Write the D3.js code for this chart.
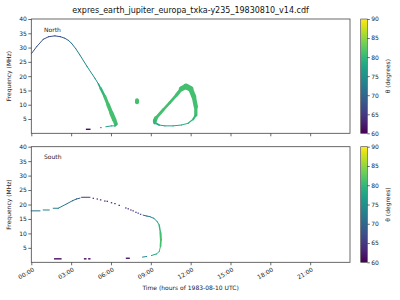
<!DOCTYPE html>
<html>
<head>
<meta charset="utf-8">
<script src="https://cdn.jsdelivr.net/npm/d3@7"></script>
<style>
  body { margin: 0; background: #fff; }
  svg { font-family: "DejaVu Sans", sans-serif; }
</style>
</head>
<body>
<div id="chart"></div>
<script>
// data: [hour, MHz, theta (deg), band (MHz)]
const title = "expres_earth_jupiter_europa_txka-y235_19830810_v14.cdf";
const hourTicks = [0, 3, 6, 9, 12, 15, 18, 21];
const freqTicks = [5, 10, 15, 20, 25, 30, 35, 40];
const thetaTicks = [60, 65, 70, 75, 80, 85, 90];

const northArc = [
  [0.03, 28.0, 68, 0], [0.4, 30.3, 68, 0], [0.9, 32.9, 67, 0], [1.3, 33.8, 67, 0],
  [1.78, 34.1, 67, 0], [2.2, 33.8, 68, 0], [2.53, 33.25, 69, 0], [2.8, 32.5, 71, 0],
  [3.03, 31.5, 72, 0], [3.35, 29.6, 73, 0], [3.66, 27.4, 74, 0], [4.21, 23.3, 75, 0],
  [4.79, 19.25, 76, 0], [5.05, 17.3, 78, 0.3], [5.22, 15.75, 80, 0.8], [5.54, 12.8, 81, 1.0],
  [5.79, 9.9, 81, 1.2], [6.04, 7.0, 81, 1.4], [6.25, 4.7, 81, 1.6], [6.37, 3.3, 80, 1.2],
  [6.3, 2.6, 79, 0], [6.05, 2.6, 77, 0], [5.62, 2.3, 76, 0]
];
const northRing = [
  [9.3, 4.4, 81, 1.6], [9.38, 5.25, 81, 1.2], [9.93, 8.2, 81, 0.9], [10.43, 10.7, 81, 0.9],
  [10.94, 13.4, 81, 1.0], [11.31, 15.6, 81, 1.4], [11.64, 16.4, 81, 2.2], [11.99, 15.6, 81, 1.8],
  [12.24, 12.8, 81, 1.6], [12.39, 9.3, 81, 1.4], [12.39, 6.4, 80, 0.9], [12.19, 4.9, 80, 0.6],
  [11.81, 3.5, 79, 0.3], [11.31, 2.9, 78, 0], [10.68, 2.6, 77, 0], [10.06, 2.6, 77, 0],
  [9.63, 2.9, 78, 0.3], [9.3, 3.7, 80, 0.8], [9.3, 4.4, 81, 1.6]
];
const northBlob = [[7.96, 10.9, 81, 1.4], [7.96, 11.6, 81, 1.4]];
const northDots = [[5.24, 2.0, 75]];
const northDashes = [[4.11, 4.46, 1.4, 61]];

const southLines = [
  [[0, 17.8, 71, 0], [0.65, 17.8, 71, 0]],
  [[0.9, 18.1, 73, 0], [1.35, 18.1, 73, 0]],
  [[1.66, 18.7, 73, 0], [2.03, 18.7, 73, 0], [2.28, 19.3, 73, 0], [2.7, 20.3, 72, 0],
   [3.1, 21.3, 70, 0], [3.4, 21.9, 69, 0], [3.66, 22.2, 68, 0]],
  [[3.79, 22.5, 65, 0], [4.41, 22.5, 65, 0]],
  [[8.43, 16.3, 70, 0], [8.7, 16.0, 72, 0], [8.93, 15.8, 74, 0], [9.23, 15.2, 76, 0],
   [9.48, 14.1, 78, 0], [9.63, 12.9, 80, 0.3], [9.73, 10.1, 81, 0.7], [9.76, 7.8, 81, 0.7],
   [9.73, 5.5, 81, 0.5], [9.63, 3.7, 80, 0], [9.43, 2.9, 78, 0], [9.05, 2.35, 76, 0]],
  [[8.68, 2.0, 74, 0], [8.38, 1.8, 72, 0]]
];
const southDots = [
  [4.67, 22.15, 63], [4.97, 21.9, 63], [5.22, 21.6, 62], [5.54, 21.2, 62], [5.72, 21.1, 62],
  [6.04, 20.6, 62], [6.30, 20.3, 62], [6.62, 19.7, 62], [7.12, 18.8, 63], [7.30, 18.5, 63],
  [7.50, 18.1, 64], [7.67, 17.8, 64], [7.88, 17.3, 65], [8.05, 17.0, 66], [8.23, 16.6, 67]
];
const southDashes = [[1.71, 2.28, 1.2, 61], [3.96, 4.16, 1.2, 61], [4.28, 4.46, 1.2, 61], [7.12, 7.42, 1.4, 62]];

const W = 400, H = 300;
const svg = d3.select("#chart").append("svg").attr("width", W).attr("height", H);
const color = t => d3.interpolateViridis((t - 60) / 30);
const x = d3.scaleLinear().domain([0, 24]).range([31.3, 350]);

svg.append("text").attr("x", 190.6).attr("y", 13).attr("text-anchor", "middle")
  .style("font-size", "8px").attr("fill", "#111").text(title);

const grad = svg.append("defs").append("linearGradient").attr("id", "vir")
  .attr("x1", 0).attr("y1", 1).attr("x2", 0).attr("y2", 0);
d3.range(0, 1.0001, 0.05).forEach(s => grad.append("stop")
  .attr("offset", s).attr("stop-color", d3.interpolateViridis(s)));

const panels = [
  {label: "North", top: 19, bottom: 133.3, lines: [northArc, northRing, northBlob], dots: northDots, dashes: northDashes},
  {label: "South", top: 146.7, bottom: 262.3, lines: southLines, dots: southDots, dashes: southDashes}
];

panels.forEach((p, i) => {
  const y = d3.scaleLinear().domain([0, 40]).range([p.bottom, p.top]);
  const g = svg.append("g");
  const px = band => Math.max(1, y(0) - y(band));

  // emission curves, one segment per step so colour follows theta
  p.lines.forEach(line => {
    d3.pairs(line).forEach(([a, b]) => {
      g.append("line")
        .attr("x1", x(a[0])).attr("y1", y(a[1])).attr("x2", x(b[0])).attr("y2", y(b[1]))
        .attr("stroke", color(a[2])).attr("stroke-width", px((a[3] + b[3]) / 2))
        .attr("stroke-linecap", a[3] + b[3] > 0 ? "round" : "square");
    });
  });
  g.selectAll(".dot").data(p.dots).join("rect")
    .attr("x", d => x(d[0]) - 0.7).attr("y", d => y(d[1]) - 0.6)
    .attr("width", 1.4).attr("height", 1.2).attr("fill", d => color(d[2]));
  g.selectAll(".dash").data(p.dashes).join("rect")
    .attr("x", d => x(d[0])).attr("y", d => y(d[2]) - 0.7)
    .attr("width", d => x(d[1]) - x(d[0])).attr("height", 1.4).attr("fill", d => color(d[3]));

  // frame
  svg.append("rect").attr("x", x(0)).attr("y", p.top)
    .attr("width", x(24) - x(0)).attr("height", p.bottom - p.top)
    .attr("fill", "none").attr("stroke", "#444").attr("stroke-width", 0.8);

  const ya = svg.append("g").attr("transform", `translate(${x(0)},0)`)
    .call(d3.axisLeft(y).tickValues(freqTicks).tickSize(3).tickPadding(1.5));
  const xa = svg.append("g").attr("transform", `translate(0,${p.bottom})`)
    .call(d3.axisBottom(x).tickValues(hourTicks).tickSize(3)
      .tickFormat(i === 1 ? d => String(d).padStart(2, "0") + ":00" : () => ""));
  [ya, xa].forEach(a => {
    a.select(".domain").remove();
    a.selectAll("line").attr("stroke", "#444").attr("stroke-width", 0.8);
    a.selectAll("text").style("font-size", "6px").attr("fill", "#222").style("font-family", "DejaVu Sans");
  });
  if (i === 1) {
    xa.selectAll("text").attr("x", 0).attr("y", 0).attr("dy", "0.5em")
      .attr("text-anchor", "end").attr("transform", "translate(1.5,6) rotate(-30)");
  }

  svg.append("text").attr("x", 44).attr("y", p.top + 12.5)
    .style("font-size", "6px").attr("fill", "#222").text(p.label);
  svg.append("text").attr("transform", `translate(11,${(p.top + p.bottom) / 2}) rotate(-90)`)
    .attr("text-anchor", "middle").style("font-size", "6px").attr("fill", "#222").text("Frequency (MHz)");

  // colorbar
  const cy = d3.scaleLinear().domain([60, 90]).range([p.bottom, p.top]);
  svg.append("rect").attr("x", 360.7).attr("y", p.top).attr("width", 6.6).attr("height", p.bottom - p.top)
    .attr("fill", "url(#vir)").attr("stroke", "#444").attr("stroke-width", 0.6);
  const ca = svg.append("g").attr("transform", "translate(367.3,0)")
    .call(d3.axisRight(cy).tickValues(thetaTicks).tickSize(2.5).tickPadding(1.5));
  ca.select(".domain").remove();
  ca.selectAll("line").attr("stroke", "#444").attr("stroke-width", 0.8);
  ca.selectAll("text").style("font-size", "6px").attr("fill", "#222").style("font-family", "DejaVu Sans");
  svg.append("text").attr("transform", `translate(390,${(p.top + p.bottom) / 2}) rotate(-90)`)
    .attr("text-anchor", "middle").style("font-size", "6px").attr("fill", "#222").text("θ (degrees)");
});

svg.append("text").attr("x", 190.6).attr("y", 290).attr("text-anchor", "middle")
  .style("font-size", "6px").attr("fill", "#222").text("Time (hours of 1983-08-10 UTC)");
</script>
</body>
</html>
